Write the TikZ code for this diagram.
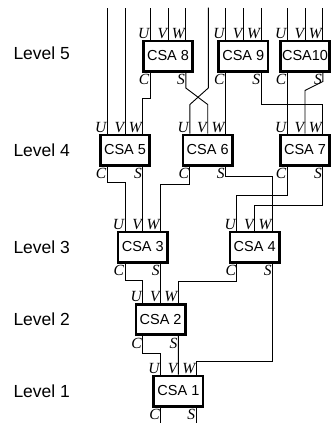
\documentclass[tikz,border=0pt]{standalone}
\usepackage{fontspec}
\setmainfont{Liberation Sans}
\newfontfamily\portfont{Liberation Serif}
\usetikzlibrary{calc}

\begin{document}
\begin{tikzpicture}[x=1pt,y=-1pt]
    \tikzstyle{every node}+=[inner sep=0pt]
    \tikzstyle{csa}=[draw=black, line width=2.6pt, minimum width=49.4pt, minimum height=30.4pt, font=\fontsize{14.5}{16}\selectfont]
    \tikzstyle{portlabel}=[font=\portfont\itshape\fontsize{15.5}{17}\selectfont]
    \tikzstyle{levelname}=[anchor=west, font=\fontsize{17.5}{20}\selectfont]
    \tikzstyle{wire}=[black, line width=0.9pt]
    \useasboundingbox (0,0) rectangle (331,423);
    \node [csa] (c8) at (168,56) {CSA 8};
    \node [csa] (c9) at (243.3,56) {CSA 9};
    \node [csa] (c10) at (305,56) {CSA10};
    \node [csa] (c5) at (125,150) {CSA 5};
    \node [csa] (c6) at (207.7,150) {CSA 6};
    \node [csa] (c7) at (305,150) {CSA 7};
    \node [csa] (c3) at (142.8,247) {CSA 3};
    \node [csa] (c4) at (254.7,247) {CSA 4};
    \node [csa] (c2) at (160.6,319.5) {CSA 2};
    \node [csa] (c1) at (178.4,391) {CSA 1};
    \foreach \n in {1,...,10} {
        \coordinate (c\n-U) at ([xshift=-17.8pt]c\n.north);
        \coordinate (c\n-V) at (c\n.north);
        \coordinate (c\n-W) at ([xshift=17.8pt]c\n.north);
        \coordinate (c\n-C) at ([xshift=-17.8pt]c\n.south);
        \coordinate (c\n-S) at ([xshift=17.8pt]c\n.south);
        \node [portlabel, anchor=base east] (c\n-u) at ([xshift=-0.8pt,yshift=1.5pt]c\n-U) {U};
        \node [portlabel, anchor=base east] (c\n-v) at ([xshift=-0.8pt,yshift=1.5pt]c\n-V) {V};
        \node [portlabel, anchor=base east] (c\n-w) at ([xshift=-0.8pt,yshift=1.5pt]c\n-W) {W};
        \node [portlabel, anchor=north east] (c\n-c) at ([xshift=-0.8pt,yshift=-2pt]c\n-C) {C};
        \node [portlabel, anchor=north east] (c\n-s) at ([xshift=-0.8pt,yshift=-2pt]c\n-S) {S};
    }
    \coordinate (top) at (0,7.5);
    \coordinate (bot) at (0,423);
    \coordinate (x6) at (208.3,7.5);
    \coordinate (lx) at (13.3,0);
    \node [levelname] (lv5) at ([yshift=3pt]lx |- c8) {Level 5};
    \node [levelname] (lv4) at (lx |- c5) {Level 4};
    \node [levelname] (lv3) at (lx |- c3) {Level 3};
    \node [levelname] (lv2) at (lx |- c2) {Level 2};
    \node [levelname] (lv1) at (lx |- c1) {Level 1};
    \foreach \p in {c5-U,c5-V,c8-U,c8-V,c8-W,c9-U,c9-V,c9-W,c10-U,c10-V,c10-W}
        \draw [wire] (\p) -- (\p |- top);
    \draw [wire] (x6) -- ++(0,80.5) -- ($(c6-U)+(0,-29)$) -- (c6-U);
    \draw [wire] (c8-C) -- ++(0,26) -| (c5-W);
    \draw [wire] (c8-S) -- ++(0,15.5) -- ($(c6-V)+(0,-29)$) -- (c6-V);
    \draw [wire] (c9-C) -- (c6-W);
    \draw [wire] (c9-S) -- ++(0,32) -| (c7-W);
    \draw [wire] (c10-C) -- (c7-U);
    \draw [wire] (c10-S) -- ++(0,9) -- ($(c7-V)+(0,-43)$) -- (c7-V);
    \draw [wire] (c5-C) -- ++(0,16) -| (c3-U);
    \draw [wire] (c5-S) -- (c3-V);
    \draw [wire] (c6-C) -- ++(0,17.5) -| (c3-W);
    \draw [wire] (c6-S) -- ++(0,10) -| (c4-W);
    \draw [wire] (c7-C) -- ++(0,28.5) -| (c4-U);
    \draw [wire] (c7-S) -- ++(0,39) -| (c4-V);
    \draw [wire] (c3-C) -- ++(0,17) -| (c2-U);
    \draw [wire] (c3-S) -- (c2-V);
    \draw [wire] (c4-C) -- ++(0,17.5) -| (c2-W);
    \draw [wire] (c4-S) -- ++(0,97.5) -| (c1-W);
    \draw [wire] (c2-C) -- ++(0,17.5) -| (c1-U);
    \draw [wire] (c2-S) -- (c1-V);
    \draw [wire] (c1-C) -- (c1-C |- bot);
    \draw [wire] (c1-S) -- (c1-S |- bot);
\end{tikzpicture}
\end{document}
